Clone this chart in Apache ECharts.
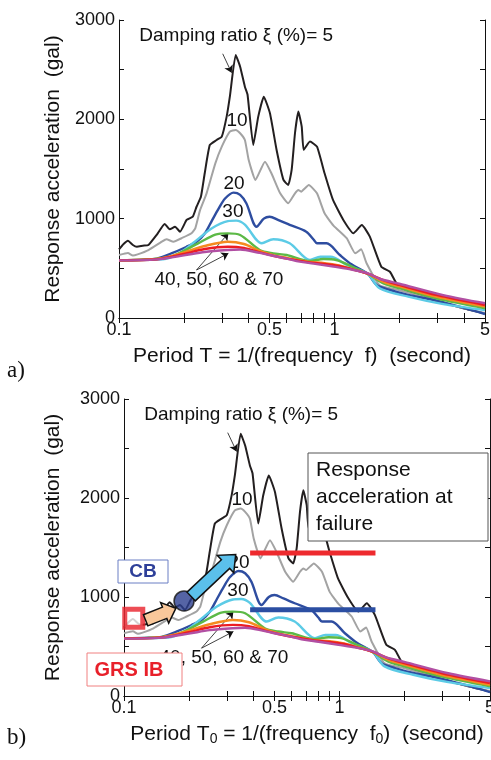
<!DOCTYPE html>
<html>
<head>
<meta charset="utf-8">
<script src="https://cdn.jsdelivr.net/npm/echarts@6/dist/echarts.min.js"></script>
<style>
  html, body { margin: 0; padding: 0; background: #fff; }
  #chart { width: 491px; height: 760px; }
</style>
</head>
<body>
<div id="chart"></div>
<script>
// damping ratios (%) and line colours
const dampingRatios = [5, 10, 20, 30, 40, 50, 60, 70]
const curveColors = ['#231f20', '#a3a3a3', '#2e4da0', '#5ccbe6', '#5cb946', '#f58a1f', '#ec1c24', '#b14fa3']

// response spectra: [period T (s), response acceleration (gal)]
const h5 = [[0.100, 690], [0.105, 745], [0.110, 778], [0.116, 735], [0.121, 718], [0.129, 728], [0.137, 735], [0.150, 840], [0.163, 947], [0.172, 893], [0.182, 919], [0.192, 869], [0.206, 987], [0.220, 1020], [0.229, 1120], [0.240, 1220], [0.250, 1457], [0.264, 1742], [0.284, 1792], [0.300, 1826], [0.316, 2027], [0.327, 2228], [0.348, 2648], [0.365, 2530], [0.384, 2329], [0.395, 2250], [0.420, 1742], [0.443, 2027], [0.470, 2228], [0.502, 2061], [0.539, 1692], [0.580, 1390], [0.610, 1339], [0.633, 1490], [0.656, 1860], [0.680, 2078], [0.705, 1926], [0.720, 1692], [0.770, 1776], [0.830, 1725], [0.900, 1457], [0.985, 1188], [1.100, 987], [1.225, 853], [1.340, 936], [1.460, 819], [1.650, 517], [1.810, 466], [1.940, 349], [2.100, 290], [2.500, 225], [3.000, 170], [4.000, 95], [5.000, 45]]
const h10 = [[0.100, 634], [0.110, 654], [0.116, 628], [0.122, 640], [0.137, 684], [0.158, 768], [0.166, 793], [0.179, 768], [0.195, 803], [0.217, 853], [0.226, 903], [0.238, 1088], [0.255, 1255], [0.280, 1557], [0.300, 1725], [0.327, 1876], [0.348, 1893], [0.365, 1860], [0.384, 1792], [0.400, 1591], [0.430, 1390], [0.476, 1574], [0.510, 1457], [0.560, 1255], [0.610, 1155], [0.656, 1255], [0.680, 1289], [0.700, 1272], [0.760, 1339], [0.830, 1255], [0.900, 1054], [0.990, 930], [1.140, 803], [1.250, 651], [1.330, 692], [1.410, 551], [1.620, 330], [2.000, 280], [2.500, 222], [3.000, 172], [4.000, 97], [5.000, 50]]
const h20 = [[0.100, 582], [0.130, 588], [0.150, 598], [0.175, 650], [0.205, 715], [0.230, 770], [0.250, 850], [0.270, 980], [0.290, 1100], [0.310, 1200], [0.340, 1262], [0.365, 1240], [0.390, 1155], [0.435, 919], [0.470, 1000], [0.500, 1020], [0.550, 985], [0.620, 937], [0.740, 869], [0.800, 790], [0.830, 752], [0.920, 752], [1.060, 634], [1.200, 540], [1.430, 443], [1.570, 332], [1.810, 282], [2.200, 232], [2.900, 181], [3.800, 114], [5.000, 40]]
const h30 = [[0.100, 582], [0.160, 590], [0.190, 650], [0.220, 752], [0.270, 903], [0.320, 975], [0.350, 980], [0.384, 940], [0.460, 752], [0.520, 793], [0.620, 752], [0.770, 584], [0.860, 617], [0.960, 617], [1.140, 534], [1.430, 443], [1.620, 299], [2.200, 215], [3.200, 140], [5.000, 80]]
const h40 = [[0.100, 582], [0.170, 612], [0.233, 752], [0.280, 840], [0.320, 852], [0.365, 836], [0.450, 685], [0.520, 651], [0.600, 634], [0.770, 574], [0.890, 594], [1.020, 584], [1.200, 520], [1.430, 443], [1.700, 345], [2.000, 300], [3.000, 195], [5.000, 98]]
const h50 = [[0.100, 582], [0.150, 594], [0.200, 660], [0.250, 725], [0.320, 768], [0.380, 745], [0.450, 675], [0.520, 632], [0.600, 605], [0.750, 566], [0.900, 553], [1.050, 530], [1.200, 495], [1.430, 445], [1.700, 362], [2.000, 318], [3.000, 212], [5.000, 114]]
const h60 = [[0.100, 582], [0.150, 592], [0.200, 645], [0.250, 695], [0.320, 718], [0.380, 705], [0.450, 660], [0.520, 626], [0.600, 598], [0.750, 563], [0.900, 545], [1.050, 525], [1.200, 492], [1.430, 446], [1.700, 378], [2.000, 333], [3.000, 230], [5.000, 131]]
const h70 = [[0.100, 580], [0.150, 590], [0.200, 630], [0.250, 665], [0.320, 685], [0.365, 690], [0.450, 655], [0.500, 634], [0.600, 598], [0.690, 567], [0.800, 548], [0.990, 517], [1.200, 488], [1.430, 450], [1.620, 395], [2.000, 345], [3.200, 230], [5.000, 148]]
const curves = [h5, h10, h20, h30, h40, h50, h60, h70]

// axis ticks / labels
const xTicks = [0.1, 0.2, 0.3, 0.4, 0.5, 0.6, 0.7, 0.8, 0.9, 1, 2, 3, 4, 5]
const xLabels = [0.1, 0.5, 1, 5]
const yLabels = [0, 1000, 2000, 3000]

// text notes: [T, gal, text] (text centre)
const notes = [[0.35, 2840, 'Damping ratio ξ (%)= 5'], [0.353, 1984, '10'], [0.342, 1350, '20'], [0.338, 1067, '30'], [0.291, 383, '40, 50, 60 & 70']]
const noteArrows = [[[0.303, 2660], [0.333, 2470]], [[0.229, 483], [0.322, 853]], [[0.229, 483], [0.322, 651]]]

// panel b) markers
const failureGRS = [[0.385, 1445], [1.47, 1445]]
const failureCB = [[0.385, 870], [1.47, 870]]
const pointCB = [[0.19, 960]]
const pointGRS = [[0.111, 785]]
const arrowCB = [[0.205, 1005], [0.33, 1430]]
const arrowGRS = [[0.126, 765], [0.174, 885]]

const FONT = '"Liberation Sans", Arial, Helvetica, sans-serif'
const SERIF = '"Liberation Serif", "Times New Roman", serif'
const INK = '#111'

const chart = echarts.init(document.getElementById('chart'))

function xAxes (gi, title, gap) {
  const base = {
    type: 'log',
    logBase: 10,
    min: 0.1,
    max: 5,
    gridIndex: gi,
    axisLine: { lineStyle: { color: INK, width: 1 } },
    axisTick: { inside: true, length: 5, customValues: xTicks, lineStyle: { color: INK } },
    splitLine: { show: false }
  }
  return [
    Object.assign({}, base, {
      position: 'bottom',
      axisLabel: {
        customValues: xLabels,
        formatter: v => String(+Number(v).toPrecision(3)),
        fontSize: 18,
        color: INK,
        margin: 3,
        fontFamily: FONT
      },
      name: title,
      nameLocation: 'middle',
      nameGap: gap,
      nameTextStyle: {
        fontSize: 21,
        color: INK,
        fontFamily: FONT,
        rich: { s: { fontSize: 14, color: INK, fontFamily: FONT, verticalAlign: 'bottom', padding: [9, 0, 0, 0] } }
      }
    }),
    Object.assign({}, base, { position: 'top', axisLabel: { show: false } })
  ]
}

function yAxes (gi, gap) {
  const base = {
    type: 'value',
    min: 0,
    max: 3000,
    interval: 500,
    gridIndex: gi,
    axisLine: { show: true, lineStyle: { color: INK, width: 1 } },
    axisTick: { show: true, inside: true, length: 5, lineStyle: { color: INK } },
    splitLine: { show: false }
  }
  return [
    Object.assign({}, base, {
      position: 'left',
      axisLabel: { customValues: yLabels, formatter: v => String(v), fontSize: 18, color: INK, margin: 4, fontFamily: FONT },
      name: 'Response acceleration  (gal)',
      nameLocation: 'middle',
      nameGap: gap,
      nameTextStyle: { fontSize: 21, color: INK, fontFamily: FONT }
    }),
    Object.assign({}, base, { position: 'right', axisLabel: { show: false } })
  ]
}

function panelSeries (p) {
  const xi = p * 2
  const list = curves.map((d, i) => ({
    type: 'line',
    name: dampingRatios[i] + '%',
    xAxisIndex: xi,
    yAxisIndex: xi,
    data: d,
    symbol: 'none',
    smooth: i < 2 ? 0.15 : 0.3,
    lineStyle: { color: curveColors[i], width: i < 2 ? 2 : 2.4 },
    z: 2 + i,
    silent: true
  }))
  // arrows from the notes to the curves
  list.push({
    type: 'line',
    xAxisIndex: xi,
    yAxisIndex: xi,
    data: [],
    silent: true,
    markLine: {
      silent: true,
      symbol: ['none', 'arrow'],
      symbolSize: 7,
      label: { show: false },
      lineStyle: { color: INK, width: 0.8, type: 'solid' },
      data: noteArrows.map(a => [{ coord: a[0] }, { coord: a[1] }])
    }
  })
  return list
}

const series = panelSeries(0).concat(panelSeries(1))
series.push(
  {
    type: 'line', xAxisIndex: 2, yAxisIndex: 2, data: failureGRS, symbol: 'none',
    lineStyle: { color: '#ee2a2e', width: 5 }, z: 30, silent: true
  },
  {
    type: 'line', xAxisIndex: 2, yAxisIndex: 2, data: failureCB, symbol: 'none',
    lineStyle: { color: '#2b4ea2', width: 5 }, z: 30, silent: true
  },
  {
    type: 'scatter', xAxisIndex: 2, yAxisIndex: 2, data: pointCB, symbol: 'circle', symbolSize: 20,
    itemStyle: { color: '#2b3d8f', borderColor: '#111', borderWidth: 1.5 }, z: 40, silent: true
  },
  {
    type: 'scatter', xAxisIndex: 2, yAxisIndex: 2, data: pointGRS, symbol: 'rect', symbolSize: 18,
    itemStyle: { color: '#fff', borderColor: '#e8202a', borderWidth: 5 }, z: 40, silent: true
  }
)

chart.setOption({
  animation: false,
  backgroundColor: '#fff',
  grid: [
    { left: 119, top: 20, width: 366, height: 298, outerBoundsMode: 'none' },
    { left: 124, top: 399, width: 366, height: 297, outerBoundsMode: 'none' }
  ],
  xAxis: xAxes(0, 'Period T = 1/(frequency  f)  (second)', 28).concat(
    xAxes(1, 'Period T{s|0} = 1/(frequency  f{s|0})  (second)', 27)),
  yAxis: yAxes(0, 55).concat(yAxes(1, 60)),
  series: series
})

// block arrow polygon between two data points of panel b)
function blockArrow (from, to, w, hw, hl, fill) {
  const p0 = chart.convertToPixel({ gridIndex: 1 }, from)
  const p1 = chart.convertToPixel({ gridIndex: 1 }, to)
  const dx = p1[0] - p0[0]
  const dy = p1[1] - p0[1]
  const len = Math.sqrt(dx * dx + dy * dy)
  const ux = dx / len
  const uy = dy / len
  const nx = -uy
  const ny = ux
  const bx = p1[0] - ux * hl
  const by = p1[1] - uy * hl
  return {
    type: 'polygon',
    z: 100,
    shape: {
      points: [
        [p0[0] + nx * w, p0[1] + ny * w],
        [bx + nx * w, by + ny * w],
        [bx + nx * hw, by + ny * hw],
        p1,
        [bx - nx * hw, by - ny * hw],
        [bx - nx * w, by - ny * w],
        [p0[0] - nx * w, p0[1] - ny * w]
      ]
    },
    style: { fill: fill, stroke: '#111', lineWidth: 1.5 }
  }
}

// text box drawn above the curves
function box (x, y, w, h, stroke, text, tx, ty, textStyle) {
  return [
    { type: 'rect', z: 100, shape: { x: x, y: y, width: w, height: h }, style: { fill: '#fff', stroke: stroke, lineWidth: 1 } },
    { type: 'text', z: 101, x: x + tx, y: y + ty, style: Object.assign({ text: text, fill: INK, fontFamily: FONT }, textStyle) }
  ]
}

// curve notes, placed in data space of each panel
const noteTexts = []
for (let g = 0; g < 2; g++) {
  notes.forEach(n => {
    const p = chart.convertToPixel({ gridIndex: g }, [n[0], n[1]])
    noteTexts.push({
      type: 'text', x: p[0], y: p[1], z: 50,
      style: { text: n[2], fontSize: 19, fill: INK, fontFamily: FONT, align: 'center', verticalAlign: 'middle' }
    })
  })
}

chart.setOption({
  graphic: noteTexts.concat(
    [
      { type: 'text', left: 7, top: 359, z: 100, style: { text: 'a)', fontSize: 23, fontFamily: SERIF, fill: INK } },
      { type: 'text', left: 7, top: 726, z: 100, style: { text: 'b)', fontSize: 23, fontFamily: SERIF, fill: INK } },
      blockArrow(arrowCB[0], arrowCB[1], 6, 12, 14, '#5bc0eb'),
      blockArrow(arrowGRS[0], arrowGRS[1], 6, 11, 12, '#f9c89b')
    ],
    box(118, 560, 50, 23, '#6b7fc4', 'CB', 25, 12,
      { fontSize: 19, fontWeight: 'bold', fill: '#2e3f99', align: 'center', verticalAlign: 'middle' }),
    box(87, 653, 95, 33, '#f08080', 'GRS IB', 42, 17,
      { fontSize: 20, fontWeight: 'bold', fill: '#e8202a', align: 'center', verticalAlign: 'middle' }),
    box(308, 453, 180, 88, '#555', 'Response\nacceleration at\nfailure', 8, 4,
      { fontSize: 21, lineHeight: 27 })
  )
})
</script>
</body>
</html>
